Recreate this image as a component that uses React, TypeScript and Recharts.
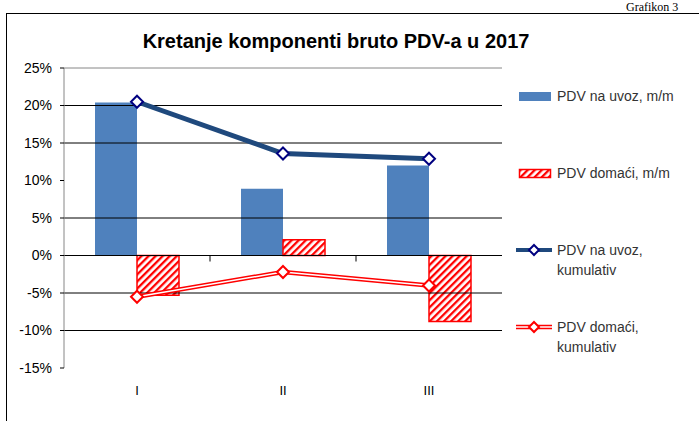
import { Bar, ComposedChart, Line, ReferenceLine, XAxis, YAxis } from "recharts";

const categories = ["I", "II", "III"];
const uvozMm = [20.4, 8.9, 12.0];
const domaciMm = [-5.3, 2.1, -8.8];
const uvozKum = [20.5, 13.6, 12.9];
const domaciKum = [-5.5, -2.2, -4.0];
const yTicks = [-15, -10, -5, 0, 5, 10, 15, 20, 25];
// the scan shows no line at 10%
const gridValues = [-10, -5, 0, 5, 15, 20];
// tick marks on the zero axis sit at the start of these categories
const boundaryCats = ["II", "III"];

const data = categories.map((name, i) => ({
  name,
  uvozMm: uvozMm[i],
  domaciMm: domaciMm[i],
  uvozKum: uvozKum[i],
  domaciKum: domaciKum[i],
}));

const BLUE = "#4F81BD";
const NAVY_LINE = "#1F497D";
const NAVY_MARK = "#000080";
const RED = "#FF0000";
const FONT = "'Liberation Sans', Arial, sans-serif";

const diamond = (stroke: string) => (props: any) => {
  const { cx, cy, index } = props;
  const r = 6;
  return (
    <path
      key={`d-${stroke}-${index}`}
      d={`M${cx},${cy - r}L${cx + r},${cy}L${cx},${cy + r}L${cx - r},${cy}Z`}
      fill="#fff"
      stroke={stroke}
      strokeWidth={2}
    />
  );
};

const HatchDefs = ({ id }: { id: string }) => (
  <defs>
    <pattern id={id} width="5" height="5" patternUnits="userSpaceOnUse" patternTransform="rotate(45)">
      <rect width="5" height="5" fill="#fff" />
      <line x1="1" y1="0" x2="1" y2="5" stroke={RED} strokeWidth="2.6" />
    </pattern>
  </defs>
);

const LegendIcon = ({ kind }: { kind: string }) => (
  <svg width={38} height={14} style={{ display: "block" }}>
    {kind === "bar" && <rect x={3} y={3} width={32} height={9} fill={BLUE} />}
    {kind === "hatch" && (
      <>
        <HatchDefs id="hatchLegend" />
        <rect x={3.5} y={3.5} width={31} height={8} fill="url(#hatchLegend)" stroke={RED} strokeWidth={1.5} />
      </>
    )}
    {kind === "navy" && (
      <>
        <line x1={0} y1={7} x2={36} y2={7} stroke={NAVY_LINE} strokeWidth={4} />
        <path d="M18,2L23,7L18,12L13,7Z" fill="#fff" stroke={NAVY_MARK} strokeWidth={2} />
      </>
    )}
    {kind === "red" && (
      <>
        <line x1={0} y1={7} x2={36} y2={7} stroke={RED} strokeWidth={4.5} />
        <line x1={0} y1={7} x2={36} y2={7} stroke="#fff" strokeWidth={1.5} />
        <path d="M18,2L23,7L18,12L13,7Z" fill="#fff" stroke={RED} strokeWidth={2} />
      </>
    )}
  </svg>
);

const legendItems = [
  { kind: "bar", lines: ["PDV na uvoz, m/m"], y: 96 },
  { kind: "hatch", lines: ["PDV domaći, m/m"], y: 173 },
  { kind: "navy", lines: ["PDV na uvoz,", "kumulativ"], y: 250 },
  { kind: "red", lines: ["PDV domaći,", "kumulativ"], y: 327 },
];

export default function App() {
  return (
    <div
      style={{
        position: "absolute",
        left: 0,
        top: 0,
        width: 699,
        height: 421,
        overflow: "hidden",
        background: "#fff",
        fontFamily: FONT,
      }}
    >
      <div
        style={{
          position: "absolute",
          left: 626,
          top: 1,
          fontFamily: "'Liberation Serif', 'Times New Roman', serif",
          fontSize: 12,
          lineHeight: "12px",
          color: "#000",
          whiteSpace: "nowrap",
        }}
      >
        Grafikon 3
      </div>
      <div
        style={{
          position: "absolute",
          left: 6,
          top: 13,
          width: 760,
          height: 460,
          borderLeft: "1.5px solid #000",
          borderTop: "1.5px solid #000",
        }}
      />
      <div
        style={{
          position: "absolute",
          left: 0,
          top: 30,
          width: 672,
          textAlign: "center",
          fontSize: 20,
          fontWeight: "bold",
          color: "#000",
        }}
      >
        Kretanje komponenti bruto PDV-a u 2017
      </div>

      <div style={{ position: "absolute", left: 0, top: 0 }}>
        <ComposedChart
          width={699}
          height={421}
          data={data}
          margin={{ top: 68, right: 197, bottom: 0, left: 0 }}
          barGap={0}
        >
          <HatchDefs id="hatchBar" />
          <XAxis
            dataKey="name"
            axisLine={false}
            tickLine={false}
            height={53}
            tickMargin={12}
            tick={{ fill: "#000", fontSize: 13, fontFamily: FONT }}
          />
          <YAxis
            domain={[-15, 25]}
            ticks={yTicks}
            width={64}
            tickFormatter={(v: number) => `${v}%`}
            axisLine={{ stroke: "#868686" }}
            tickLine={{ stroke: "#000" }}
            tickSize={4}
            tickMargin={8}
            interval={0}
            tick={{ fill: "#000", fontSize: 14, fontFamily: FONT }}
          />
          <ReferenceLine y={25} stroke="#868686" />
          {gridValues.map((v) => (
            <ReferenceLine key={`g${v}`} y={v} stroke="#000" />
          ))}
          {boundaryCats.map((c) => (
            <ReferenceLine
              key={`b${c}`}
              position="start"
              segment={[
                { x: c, y: 0 },
                { x: c, y: -0.8 },
              ]}
              stroke="#000"
            />
          ))}
          <Bar dataKey="uvozMm" fill={BLUE} barSize={42} isAnimationActive={false} />
          <Bar
            dataKey="domaciMm"
            fill="url(#hatchBar)"
            stroke={RED}
            strokeWidth={1.5}
            barSize={42}
            isAnimationActive={false}
          />
          <Line
            dataKey="uvozKum"
            stroke={NAVY_LINE}
            strokeWidth={5}
            dot={diamond(NAVY_MARK)}
            activeDot={false}
            isAnimationActive={false}
          />
          <Line dataKey="domaciKum" stroke={RED} strokeWidth={4.5} dot={false} activeDot={false} isAnimationActive={false} />
          <Line
            dataKey="domaciKum"
            stroke="#fff"
            strokeWidth={1.5}
            dot={diamond(RED)}
            activeDot={false}
            isAnimationActive={false}
          />
        </ComposedChart>
      </div>

      {legendItems.map((item) => (
        <div key={item.kind}>
          <div style={{ position: "absolute", left: 516, top: item.y - 7 }}>
            <LegendIcon kind={item.kind} />
          </div>
          <div
            style={{
              position: "absolute",
              left: 557,
              top: item.y - 10,
              fontSize: 14,
              lineHeight: "20px",
              color: "#333",
              whiteSpace: "nowrap",
            }}
          >
            {item.lines.map((l) => (
              <div key={l}>{l}</div>
            ))}
          </div>
        </div>
      ))}
    </div>
  );
}
